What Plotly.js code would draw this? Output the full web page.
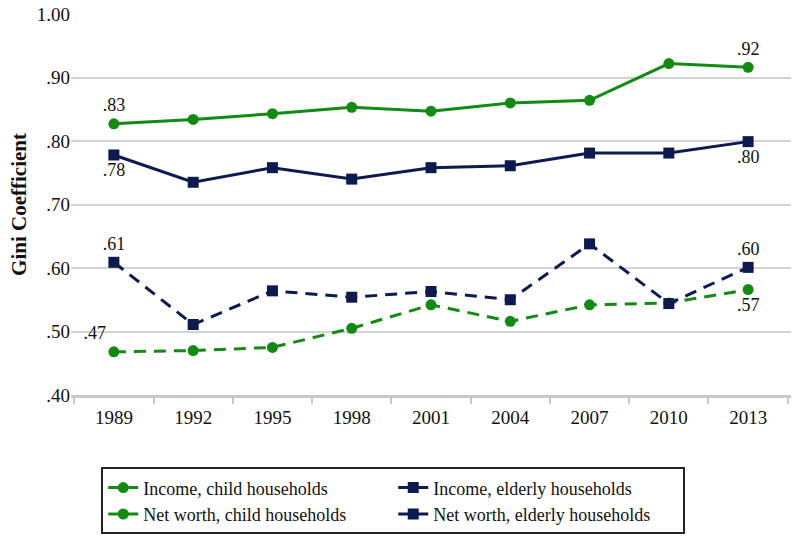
<!DOCTYPE html>
<html>
<head>
<meta charset="utf-8">
<script src="https://cdn.plot.ly/plotly-3.0.1.min.js"></script>
<style>html,body{margin:0;padding:0;background:#fff;}#chart{width:800px;height:538px;}</style>
</head>
<body>
<div id="chart"></div>
<script>
var years = ["1989","1992","1995","1998","2001","2004","2007","2010","2013"];
var incomeChild = [0.468,0.470,0.475,0.505,0.542,0.516,0.542,0.545,0.566];
var incomeElderly = [0.609,0.511,0.564,0.554,0.563,0.550,0.638,0.544,0.601];
var netWorthChild = [0.827,0.834,0.843,0.853,0.847,0.860,0.864,0.922,0.916];
var netWorthElderly = [0.778,0.735,0.758,0.740,0.758,0.761,0.781,0.781,0.799];
var yTickVals = [0.4,0.5,0.6,0.7,0.8,0.9,1.0];
var yTickText = [".40",".50",".60",".70",".80",".90","1.00"];

var green = "#138a13", navy = "#0c1a4f";
var font = "Liberation Serif";

function lbl(arr){
  return arr.map(function(v,i){
    if(i===0 || i===arr.length-1){ return "." + Math.round(v*100); }
    return "";
  });
}

var tf = {family:font,size:18,color:"#111"};
var traces = [
  {x:years, y:incomeChild, name:"Income, child households", mode:"lines+markers+text",
   line:{color:green,width:3,dash:"12px,8px"}, marker:{symbol:"circle",size:11,color:green},
   text:lbl(incomeChild), textposition:["top left","","","","","","","","bottom center"],
   textfont:tf, cliponaxis:false},
  {x:years, y:incomeElderly, name:"Income, elderly households", mode:"lines+markers+text",
   line:{color:navy,width:3,dash:"12px,8px"}, marker:{symbol:"square",size:11,color:navy},
   text:lbl(incomeElderly), textposition:"top center",
   textfont:tf, cliponaxis:false},
  {x:years, y:netWorthChild, name:"Net worth, child households", mode:"lines+markers+text",
   line:{color:green,width:3}, marker:{symbol:"circle",size:11,color:green},
   text:lbl(netWorthChild), textposition:"top center",
   textfont:tf, cliponaxis:false},
  {x:years, y:netWorthElderly, name:"Net worth, elderly households", mode:"lines+markers+text",
   line:{color:navy,width:3}, marker:{symbol:"square",size:11,color:navy},
   text:lbl(netWorthElderly), textposition:"bottom center",
   textfont:tf, cliponaxis:false}
];

var layout = {
  width:800, height:538,
  margin:{l:71, r:9, t:14, b:143, autoexpand:false},
  paper_bgcolor:"#fff", plot_bgcolor:"#fff",
  font:{family:font, size:18, color:"#111"},
  showlegend:true,
  xaxis:{type:"category", tickson:"boundaries", ticks:"outside", ticklen:6, tickcolor:"#c8c8c8", tickwidth:2,
         showline:true, linecolor:"#c8c8c8", linewidth:3, showgrid:false, zeroline:false,
         ticklabelstandoff:3, tickfont:{family:font,size:19,color:"#111"}},
  yaxis:{range:[0.4,1.0], tickvals:yTickVals, ticktext:yTickText, showgrid:true, gridcolor:"#d3d3d3", gridwidth:2,
         zeroline:false, showline:false, ticks:"", tickfont:{family:font,size:19,color:"#111"},
         title:{text:"<b>Gini Coefficient</b>", font:{family:font,size:21,color:"#111"}, standoff:4}},
  legend:{orientation:"h", x:0.042, xanchor:"left", y:-0.19, yanchor:"top",
          entrywidth:245, entrywidthmode:"pixels", tracegroupgap:0,
          bordercolor:"#222", borderwidth:2, bgcolor:"#fff",
          font:{family:font,size:18,color:"#111"}, traceorder:"normal"}
};

Plotly.newPlot("chart", traces, layout, {displayModeBar:false, staticPlot:true});
</script>
</body>
</html>
